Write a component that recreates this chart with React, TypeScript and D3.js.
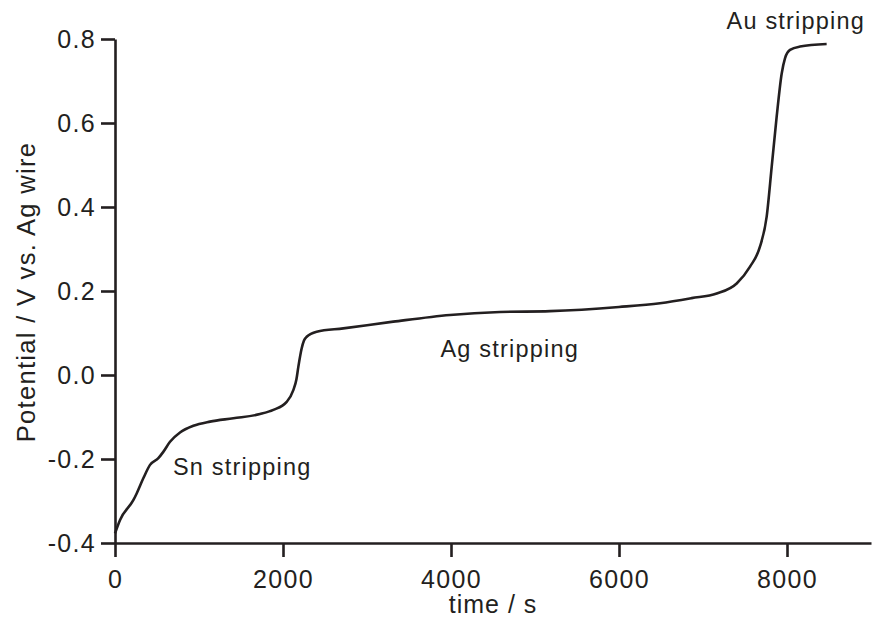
import React, { useEffect, useRef } from "react";
import * as d3 from "d3";

// chronopotentiometry trace
const timeS = [0, 60, 218, 258, 337, 417, 516, 575, 655, 774, 933, 1131, 1409, 1726, 1885, 2044, 2123, 2160, 2183, 2222, 2250, 2282, 2401, 2718, 3313, 3988, 4583, 5179, 6000, 6488, 6865, 7163, 7401, 7560, 7679, 7758, 7818, 7877, 7937, 7976, 8036, 8155, 8472];
const potentialV = [-0.377, -0.345, -0.298, -0.282, -0.246, -0.214, -0.198, -0.183, -0.159, -0.137, -0.121, -0.111, -0.103, -0.093, -0.083, -0.064, -0.036, -0.01, 0.02, 0.063, 0.082, 0.091, 0.103, 0.111, 0.127, 0.143, 0.15, 0.152, 0.162, 0.171, 0.183, 0.194, 0.218, 0.258, 0.306, 0.377, 0.496, 0.615, 0.718, 0.754, 0.774, 0.782, 0.788];

const xTicks = [0, 2000, 4000, 6000, 8000];
const yTicks = [-0.4, -0.2, 0.0, 0.2, 0.4, 0.6, 0.8];

const notes = [
  { text: "Sn stripping", t: 690, v: -0.238 },
  { text: "Ag stripping", t: 3875, v: 0.043 },
  { text: "Au stripping", t: 7280, v: 0.823 },
];

const W = 876;
const H = 626;
const ink = "#231f20";
const font = "'Liberation Sans', Arial, Helvetica, sans-serif";

export default function App() {
  const ref = useRef<SVGSVGElement>(null);

  useEffect(() => {
    const svg = d3.select(ref.current);
    svg.selectAll("*").remove();

    const x = d3.scaleLinear().domain([0, 9000]).range([115, 871]);
    const y = d3.scaleLinear().domain([-0.4, 0.8]).range([543, 39]);

    const xAxis = svg.append("g")
      .attr("transform", `translate(0,${y(-0.4)})`)
      .call(d3.axisBottom(x).tickValues(xTicks).tickSize(14).tickSizeOuter(0).tickPadding(13).tickFormat(d3.format("d")));

    const yAxis = svg.append("g")
      .attr("transform", `translate(${x(0)},0)`)
      .call(d3.axisLeft(y).tickValues(yTicks).tickSize(14).tickSizeOuter(0).tickPadding(5).tickFormat(d3.format(".1f")));

    [xAxis, yAxis].forEach(g => {
      g.select(".domain").attr("stroke", ink).attr("stroke-width", 2.6);
      g.selectAll(".tick line").attr("stroke", ink).attr("stroke-width", 2.6);
      g.selectAll("text")
        .attr("fill", ink)
        .style("font-family", font)
        .style("font-size", "25px")
        .style("letter-spacing", "1.3px");
    });
    yAxis.selectAll("text").text(d => d3.format(".1f")(d as number).replace("−", "-"));

    const line = d3.line<number>()
      .x((_, i) => x(timeS[i]))
      .y(d => y(d))
      .curve(d3.curveMonotoneX);

    svg.append("path")
      .datum(potentialV)
      .attr("d", line)
      .attr("fill", "none")
      .attr("stroke", ink)
      .attr("stroke-width", 2.6)
      .attr("stroke-linejoin", "round");

    svg.selectAll(".note")
      .data(notes)
      .enter()
      .append("text")
      .attr("class", "note")
      .attr("x", d => x(d.t))
      .attr("y", d => y(d.v))
      .attr("fill", ink)
      .style("font-family", font)
      .style("font-size", "23.5px")
      .style("letter-spacing", "1.2px")
      .text(d => d.text);

    svg.append("text")
      .attr("x", 493)
      .attr("y", 613)
      .attr("text-anchor", "middle")
      .attr("fill", ink)
      .style("font-family", font)
      .style("font-size", "25px")
      .style("letter-spacing", "1px")
      .text("time / s");

    svg.append("text")
      .attr("transform", "translate(35,292) rotate(-90)")
      .attr("text-anchor", "middle")
      .attr("fill", ink)
      .style("font-family", font)
      .style("font-size", "25.5px")
      .style("letter-spacing", "1.3px")
      .text("Potential / V vs. Ag wire");
  }, []);

  return (
    <svg
      ref={ref}
      width={W}
      height={H}
      style={{ position: "absolute", left: 0, top: 0, background: "#fff" }}
    />
  );
}
